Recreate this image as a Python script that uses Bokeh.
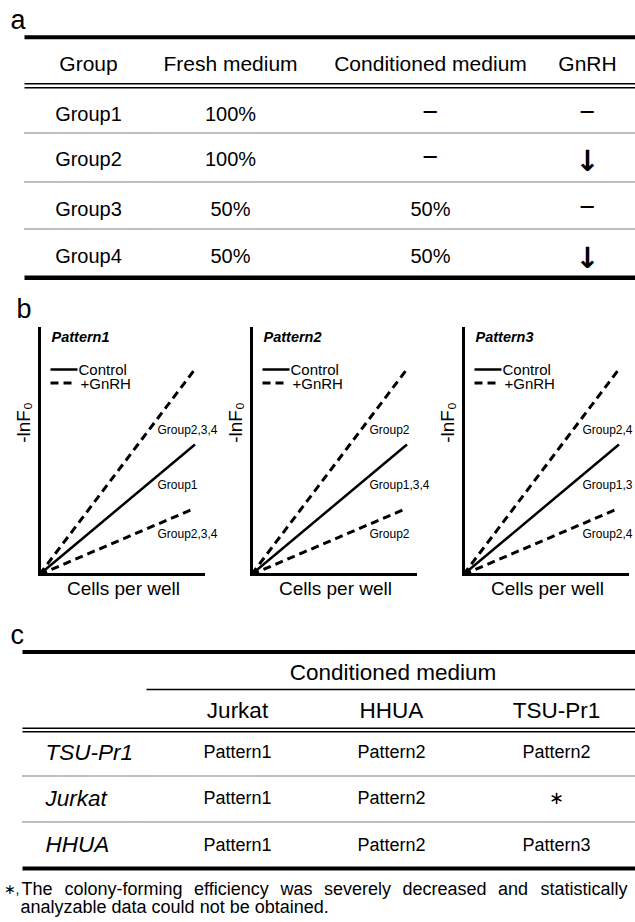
from math import pi
from bokeh.plotting import figure
from bokeh.layouts import column, row
from bokeh.models import Range1d, FixedTicker, LinearAxis
from bokeh.embed import file_html
from bokeh.resources import INLINE
from bokeh.core.properties import value

FONT = "Liberation Sans"

# ---------------- Panel a data ----------------
headers_a = ["Group", "Fresh medium", "Conditioned medium", "GnRH"]
groups = ["Group1", "Group2", "Group3", "Group4"]
fresh_medium = ["100%", "100%", "50%", "50%"]
conditioned_medium = ["\u2212", "\u2212", "50%", "50%"]
gnrh = ["\u2212", "\u2193", "\u2212", "\u2193"]

# ---------------- Panel b data ----------------
cells_per_well = [0.0, 1.0]
control_y = [0.0, 1.0]
gnrh_up_y = [0.0, 1.58]
gnrh_down_y = [0.0, 0.51]
patterns = ["Pattern1", "Pattern2", "Pattern3"]
upper_labels = ["Group2,3,4", "Group2", "Group2,4"]
control_labels = ["Group1", "Group1,3,4", "Group1,3"]
lower_labels = ["Group2,3,4", "Group2", "Group2,4"]

# ---------------- Panel c data ----------------
cm_sources = ["Jurkat", "HHUA", "TSU-Pr1"]
cell_lines = ["TSU-Pr1", "Jurkat", "HHUA"]
pattern_table = [
    ["Pattern1", "Pattern2", "Pattern2"],
    ["Pattern1", "Pattern2", "\u2217"],
    ["Pattern1", "Pattern2", "Pattern3"],
]
footnote_mark = "\u2217,"
footnote_words = ["The", "colony-forming", "efficiency", "was", "severely",
                  "decreased", "and", "statistically"]
footnote_word_x = [21, 64, 193.5, 280, 323.5, 402, 497.5, 540]
footnote_2 = "analyzable data could not be obtained."

W = 635


def table_fig(height, y_top, y_bottom):
    p = figure(width=W, height=height, x_range=Range1d(0, W),
               y_range=Range1d(y_bottom, y_top), x_axis_type=None, y_axis_type=None,
               toolbar_location=None, output_backend="svg", min_border=0,
               outline_line_color=None, background_fill_color="white")
    return p


def hline(p, y, x0, x1, w, dash="solid", color="black"):
    p.segment(x0=[x0], y0=[y], x1=[x1], y1=[y], line_color=color,
              line_width=w, line_dash=dash)


def txt(p, xs, ys, texts, size, align="center", style="normal", baseline="middle",
        font=FONT, angle=0.0):
    p.text(x=xs, y=ys, text=texts, text_font=value(font), text_font_size=size,
           text_align=align, text_baseline=baseline, text_font_style=style,
           text_color="black", angle=angle)


# ================= Panel a =================
pa = table_fig(280, 0, 280)
col_x = [88, 230, 430, 587]
header_y = 63
row_y = [113, 158, 208, 255]
txt(pa, [10], [19], ["a"], "27px", align="left")
hline(pa, 36.7, 24, W, 4)
txt(pa, col_x, [header_y] * 4, headers_a, "21px")
hline(pa, 83.3, 24, W, 1.4)
hline(pa, 87.3, 24, W, 1.4)
for yy in [132.5, 181.5, 228.5]:
    hline(pa, yy, 24, W, 1.2, "1 1")
hline(pa, 277.5, 24, W, 5)
txt(pa, [col_x[0]] * 4, row_y, groups, "20px")
txt(pa, [col_x[1]] * 4, row_y, fresh_medium, "20px")
for i in range(4):
    v = conditioned_medium[i]
    if v == "\u2212":
        txt(pa, [col_x[2]], [row_y[i] - 2], [v], "27px")
    else:
        txt(pa, [col_x[2]], [row_y[i]], [v], "20px")
    g = gnrh[i]
    if g == "\u2212":
        txt(pa, [col_x[3]], [row_y[i] - 2], [g], "27px")
    else:
        txt(pa, [col_x[3]], [row_y[i] + 2], [g], "29px", style="bold", font="DejaVu Sans")

# ================= Panel b =================
PXX = 155.5   # pixels per x unit
PXY = 130.0   # pixels per y unit
H_B = 325
BOTTOM = 31


def pattern_fig(i, width, left, label_dx):
    p = figure(width=width, height=H_B,
               x_range=Range1d(-left / PXX, (width - left) / PXX),
               y_range=Range1d(-BOTTOM / PXY, (H_B - BOTTOM) / PXY),
               x_axis_type=None, y_axis_type=None,
               toolbar_location=None, output_backend="svg", min_border=0,
               outline_line_color=None)
    xa = LinearAxis(fixed_location=0, bounds=(0, 1.055))
    ya = LinearAxis(fixed_location=0, bounds=(0, 1.89))
    for ax in (xa, ya):
        ax.ticker = FixedTicker(ticks=[])
        ax.major_tick_line_color = None
        ax.minor_tick_line_color = None
        ax.major_label_text_font_size = "0px"
        ax.major_label_standoff = 0
        ax.major_tick_out = 0
        ax.major_tick_in = 0
        ax.minor_tick_out = 0
        ax.axis_line_width = 3
        ax.axis_line_color = "black"
        ax.axis_line_cap = "square"
    p.add_layout(xa, "below")
    p.add_layout(ya, "left")

    p.line(cells_per_well, gnrh_up_y, line_color="black", line_width=3, line_dash="8 5")
    p.line(cells_per_well, control_y, line_color="black", line_width=2.5)
    p.line(cells_per_well, gnrh_down_y, line_color="black", line_width=3, line_dash="8 5")

    # title
    p.text(x=[12 / PXX], y=[238 / PXY], text=[patterns[i]], text_font=value(FONT),
           text_font_size="14.5px", text_font_style="bold italic", text_align="left",
           text_baseline="middle", text_color="black")
    # legend
    p.segment(x0=[11 / PXX], y0=[205 / PXY], x1=[38 / PXX], y1=[205 / PXY],
              line_color="black", line_width=2.5)
    p.segment(x0=[11 / PXX], y0=[191.5 / PXY], x1=[33 / PXX], y1=[191.5 / PXY],
              line_color="black", line_width=3, line_dash="8 5")
    p.text(x=[39 / PXX, 41 / PXX], y=[205 / PXY, 191.5 / PXY], text=["Control", "+GnRH"],
           text_font=value(FONT), text_font_size="15px", text_align="left",
           text_baseline="middle", text_color="black")
    # group labels
    lx = label_dx / PXX
    p.text(x=[lx, lx, lx], y=[145 / PXY, 90 / PXY, 41 / PXY],
           text=[upper_labels[i], control_labels[i], lower_labels[i]],
           text_font=value(FONT), text_font_size="12px", text_align="left",
           text_baseline="middle", text_color="black")
    # axis titles
    txt(p, [-16 / PXX], [152 / PXY], ["-lnF\u2080"], "19px", angle=pi / 2)
    txt(p, [84 / PXX], [-14 / PXY], ["Cells per well"], "19px")
    if i == 0:
        txt(p, [-23 / PXX], [266 / PXY], ["b"], "27px", align="left")
    return p


pb1 = pattern_fig(0, 220, 39, 118)
pb2 = pattern_fig(1, 212, 31, 118)
pb3 = pattern_fig(2, W - 432, 31, 119)

# ================= Panel c =================
pc = table_fig(316, 605, 921)
c_col_x = [237, 391, 556]
c_row_y = [751.7, 797.7, 844]
txt(pc, [10], [634], ["c"], "27px", align="left")
hline(pc, 651.5, 22, W, 4)
txt(pc, [392.5], [672], ["Conditioned medium"], "22.5px")
hline(pc, 689, 146, W, 1.4)
txt(pc, c_col_x, [710] * 3, cm_sources, "22.5px")
hline(pc, 727.7, 22, W, 1.4)
hline(pc, 731.3, 22, W, 1.4)
txt(pc, [45] * 3, c_row_y, cell_lines, "22.5px", align="left", style="italic")
for r in range(3):
    txt(pc, c_col_x, [c_row_y[r]] * 3, pattern_table[r], "18px")
for yy in [775.5, 821.5]:
    hline(pc, yy, 22, W, 1.2, "1 1")
hline(pc, 868, 22, W, 4)
txt(pc, [3], [888], [footnote_mark], "14px", align="left")
txt(pc, footnote_word_x, [888] * len(footnote_words), footnote_words, "18px", align="left")
txt(pc, [20], [906], [footnote_2], "18px", align="left")

layout = column(pa, row(pb1, pb2, pb3), pc)
open("out.html", "w").write(file_html(layout, INLINE))
